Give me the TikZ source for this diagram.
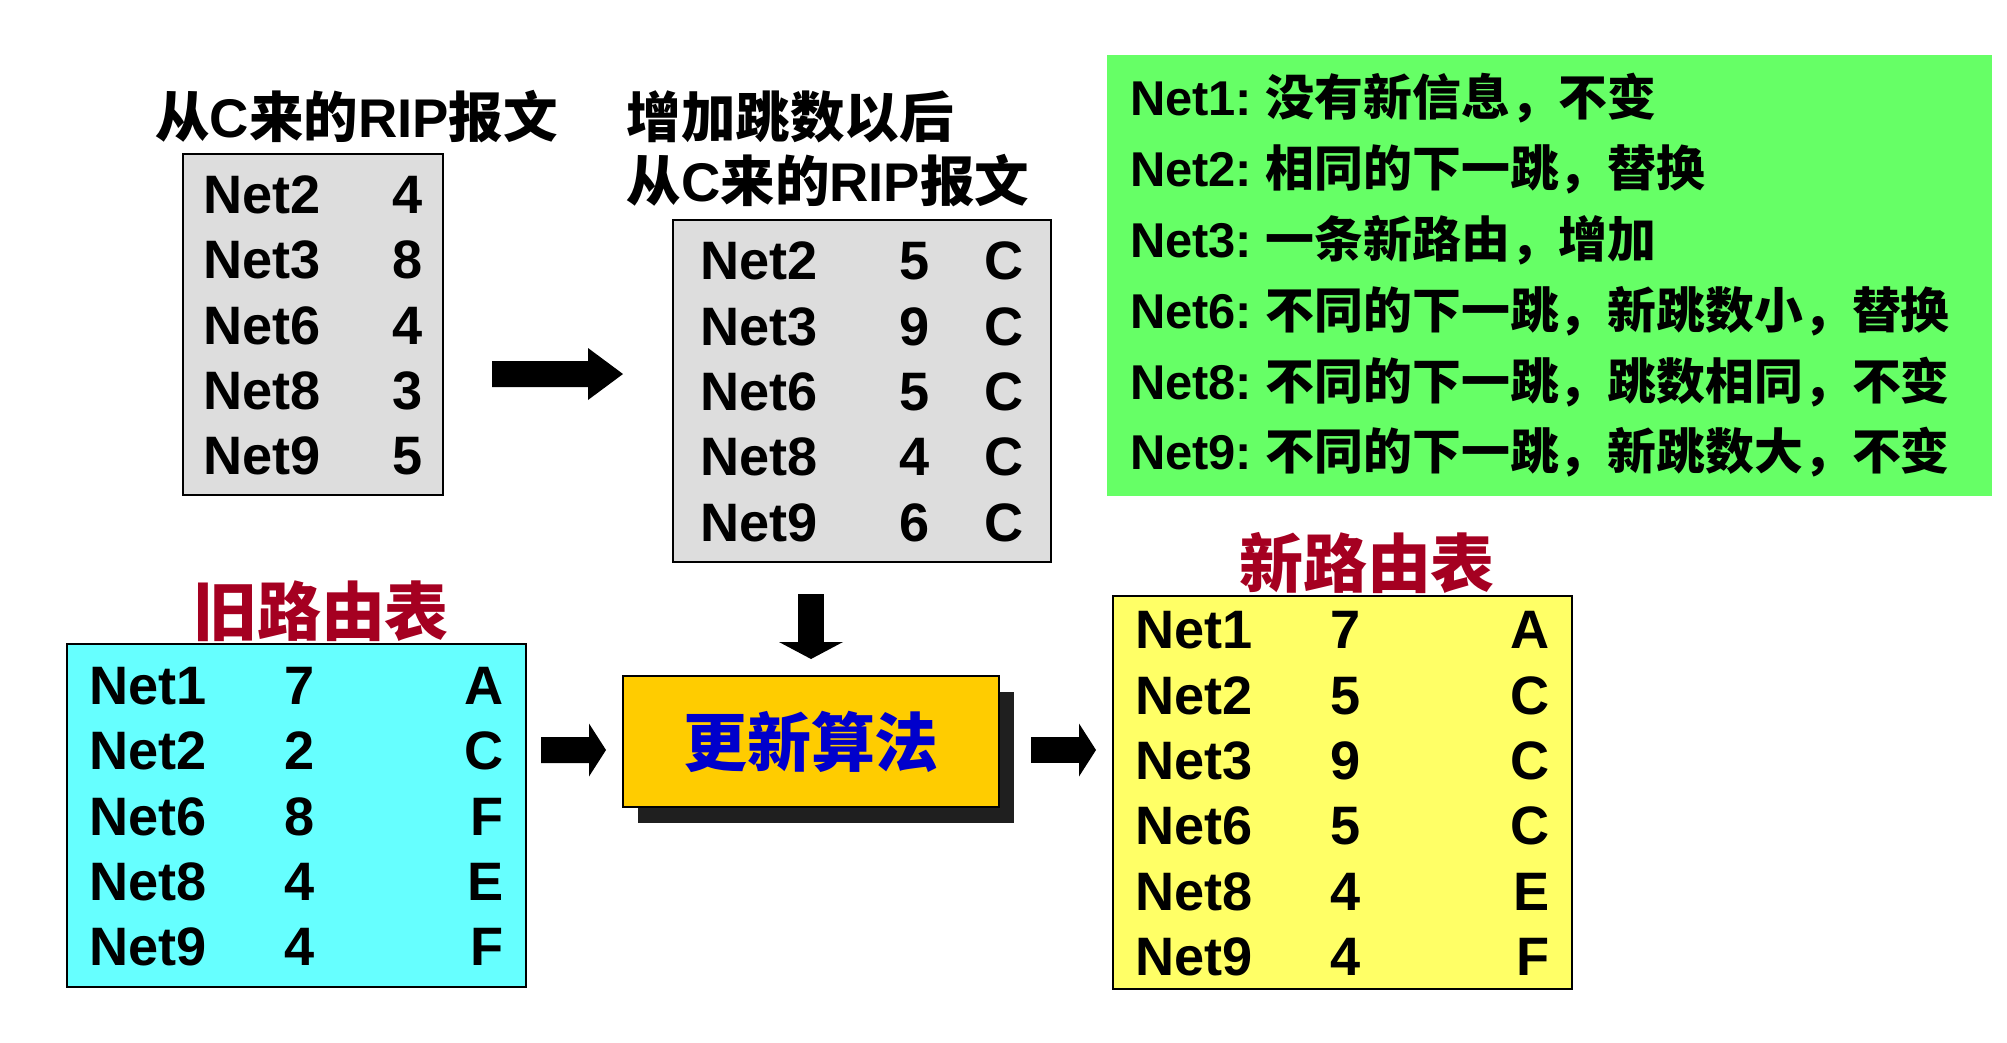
\documentclass[tikz,border=0pt]{standalone}
\usepackage{fontspec}
\usepackage{array}
\setmainfont{Liberation Sans}
\newfontfamily\zhfont{Noto Sans CJK SC}
\newcommand{\zhtext}[1]{{\zhfont #1}}
\newcommand{\lowerrows}[1]{\raisebox{-0.065cm}[\height][\depth]{#1}}
\usepackage{xcolor}
\usepackage{tikz}
\usetikzlibrary{arrows.meta, shadows}

\definecolor{msggray}{HTML}{DDDDDD}
\definecolor{notegreen}{HTML}{66FF66}
\definecolor{oldcyan}{HTML}{66FFFF}
\definecolor{newyellow}{HTML}{FFFF66}
\definecolor{algoorange}{HTML}{FFCC00}
\definecolor{algoblue}{HTML}{0000CC}
\definecolor{titlered}{HTML}{A50021}

\begin{document}
\begin{tikzpicture}[
  tbl/.style={rectangle, draw=black, line width=0.02cm, inner ysep=0pt,
              font=\fontsize{15.4}{18.6}\selectfont\bfseries},
  head/.style={inner sep=0pt, font=\fontsize{15.5}{18.2}\selectfont\bfseries},
  redhead/.style={inner sep=0pt, text=titlered,
                  font=\fontsize{18.2}{20}\selectfont\bfseries\zhfont},
  notebox/.style={rectangle, fill=notegreen, text width=8.39cm, align=left,
                  inner xsep=0.23cm, minimum height=4.41cm,
                  font=\fontsize{13.9}{20.14}\selectfont\bfseries},
  algobox/.style={rectangle, draw=black, line width=0.02cm, fill=algoorange,
                  minimum width=3.76cm, minimum height=1.31cm, text=algoblue,
                  font=\fontsize{18.2}{20}\selectfont\bfseries\zhfont,
                  drop shadow={shadow xshift=0.15cm, shadow yshift=-0.16cm,
                               fill=black!88, opacity=1}},
  fat/.style 2 args={line width=0.26cm,
                     -{Triangle[length=#1, width=#2, line width=0pt]}}
]
\useasboundingbox (0,0) rectangle (20.07,-10.42);

% RIP message from C
\node[head] (msgtitle) at (3.565,-1.17)
      {\zhtext{从}C\zhtext{来的}RIP\zhtext{报文}};
\node[tbl, fill=msggray, inner xsep=0.2cm, minimum width=2.6cm,
      minimum height=3.41cm] (msgbox) at (3.13,-3.245)
      {\lowerrows{\begin{tabular}{@{}p{1.6cm}@{}>{\raggedleft\arraybackslash}p{0.6cm}@{}}
       Net2 & 4\\ Net3 & 8\\ Net6 & 4\\ Net8 & 3\\ Net9 & 5
       \end{tabular}}};

% Message after adding one hop
\node[head, anchor=west, align=left] (addtitle) at (6.26,-1.49)
      {\zhtext{增加跳数以后}\\\zhtext{从}C\zhtext{来的}RIP\zhtext{报文}};
\node[tbl, fill=msggray, inner xsep=0.27cm, minimum width=3.78cm,
      minimum height=3.42cm] (addbox) at (8.62,-3.91)
      {\lowerrows{\begin{tabular}{@{}p{1.85cm}@{}>{\centering\arraybackslash}p{0.6cm}@{}>{\raggedleft\arraybackslash}p{0.79cm}@{}}
       Net2 & 5 & C\\ Net3 & 9 & C\\ Net6 & 5 & C\\ Net8 & 4 & C\\ Net9 & 6 & C
       \end{tabular}}};

% Rules
\node[notebox] (notes) at (15.495,-2.755)
      {Net1:\hspace{0.28em}\zhtext{没有新信息，不变}\\
       Net2:\hspace{0.28em}\zhtext{相同的下一跳，替换}\\
       Net3:\hspace{0.28em}\zhtext{一条新路由，增加}\\
       Net6:\hspace{0.28em}\zhtext{不同的下一跳，新跳数小，替换}\\
       Net8:\hspace{0.28em}\zhtext{不同的下一跳，跳数相同，不变}\\
       Net9:\hspace{0.28em}\zhtext{不同的下一跳，新跳数大，不变}};

% Old routing table
\node[redhead] (oldtitle) at (3.21,-6.11) {旧路由表};
\node[tbl, fill=oldcyan, inner xsep=0.225cm, minimum width=4.59cm,
      minimum height=3.43cm] (oldbox) at (2.965,-8.155)
      {\lowerrows{\begin{tabular}{@{}p{1.6cm}@{}>{\centering\arraybackslash}p{1.0cm}@{}>{\raggedleft\arraybackslash}p{1.54cm}@{}}
       Net1 & 7 & A\\ Net2 & 2 & C\\ Net6 & 8 & F\\ Net8 & 4 & E\\ Net9 & 4 & F
       \end{tabular}}};

% Update algorithm
\node[algobox] (algo) at (8.11,-7.415) {更新算法};

% New routing table
\node[redhead] (newtitle) at (13.67,-5.63) {新路由表};
\node[tbl, fill=newyellow, inner xsep=0.225cm, minimum width=4.59cm,
      minimum height=3.93cm] (newbox) at (13.425,-7.925)
      {\lowerrows{\begin{tabular}{@{}p{1.6cm}@{}>{\centering\arraybackslash}p{1.0cm}@{}>{\raggedleft\arraybackslash}p{1.54cm}@{}}
       Net1 & 7 & A\\ Net2 & 5 & C\\ Net3 & 9 & C\\ Net6 & 5 & C\\ Net8 & 4 & E\\ Net9 & 4 & F
       \end{tabular}}};

% Arrows
\draw[fat={0.35cm}{0.52cm}, shorten <=0.48cm, shorten >=0.49cm]
      ([yshift=-0.495cm]msgbox.east) -- ([yshift=0.17cm]addbox.west);
\draw[fat={0.17cm}{0.64cm}, shorten <=0.31cm, shorten >=0.16cm]
      (addbox.south -| algo.north) -- (algo.north);
\draw[fat={0.17cm}{0.53cm}, shorten <=0.14cm, shorten >=0.16cm]
      ([yshift=0.655cm]oldbox.east) -- ([yshift=-0.085cm]algo.west);
\draw[fat={0.17cm}{0.53cm}, shorten <=0.31cm, shorten >=0.16cm]
      ([yshift=-0.085cm]algo.east) -- ([yshift=0.425cm]newbox.west);
\end{tikzpicture}
\end{document}
